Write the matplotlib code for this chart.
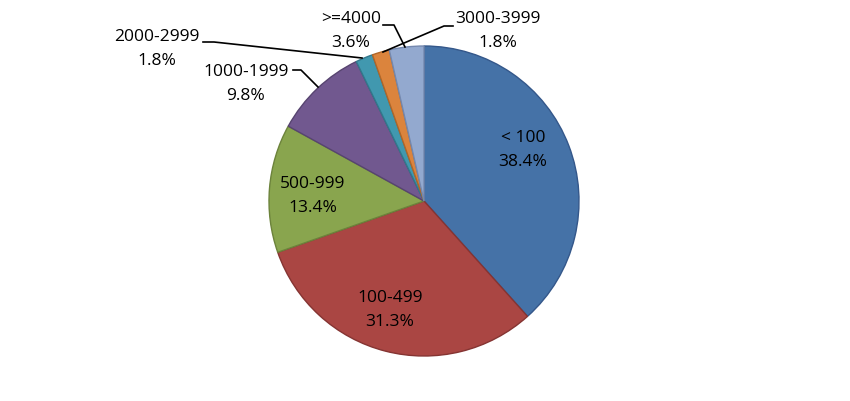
import matplotlib.pyplot as plt

plt.rcParams['font.family'] = ['Open Sans', 'DejaVu Sans']

# data
categories = ["< 100", "100-499", "500-999", "1000-1999", "2000-2999", "3000-3999", ">=4000"]
shares = [38.4, 31.3, 13.4, 9.8, 1.8, 1.8, 3.6]

colors = ["#4572A7", "#AA4643", "#89A54E", "#71588F", "#4198AF", "#DB843D", "#93A9CF"]
edges = ["#34578A", "#853432", "#6C833B", "#574470", "#31788C", "#B06628", "#7488AE"]

W, H = 850, 401
cx, cy, r = 424, H - 201, 155

fig = plt.figure(figsize=(8.5, 4.01), dpi=100)
ax = fig.add_axes([0, 0, 1, 1])

wedges, _ = ax.pie(shares, colors=colors, startangle=90, counterclock=False,
                   center=(cx, cy), radius=r, frame=True,
                   wedgeprops=dict(linewidth=1.0))
for w, e in zip(wedges, edges):
    w.set_edgecolor(e)
ax.set_xlim(0, W)
ax.set_ylim(0, H)
ax.set_aspect("equal")
ax.axis("off")


def lbl(x, y, i, ha="center"):
    ax.text(x, H - y, f"{categories[i]}\n{shares[i]:.1f}%", ha=ha, va="center",
            fontsize=12.5, linespacing=1.72, color="black")


# inside labels
lbl(523, 150, 0)
lbl(390, 310, 1)
lbl(313, 196, 2)

# outside labels + leader lines
lbl(246, 84, 3)
lbl(157, 49, 4)
lbl(498, 31, 5)
lbl(351, 31, 6)

leaders = [
    [(293, 70), (301, 70), (318, 87)],
    [(203, 42), (214, 42), (362, 58)],
    [(453, 26), (444, 26), (383, 52)],
    [(383, 25), (394, 25), (405, 47)],
]
for pts in leaders:
    ax.plot([p[0] for p in pts], [H - p[1] for p in pts], color="black", lw=1.2)

fig.savefig("out.png", dpi=100)
